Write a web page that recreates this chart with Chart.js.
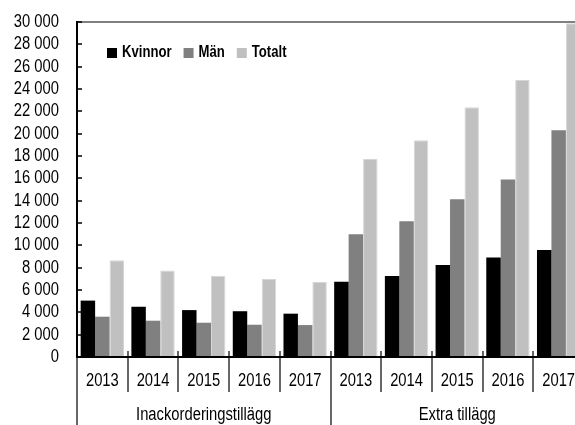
<!DOCTYPE html>
<html><head><meta charset="utf-8">
<script src="https://cdn.jsdelivr.net/npm/chart.js@4/dist/chart.umd.min.js"></script>
<style>html,body{margin:0;padding:0;overflow:hidden;background:#fff}#wrap{width:586px;height:425px;position:relative}</style>
</head><body><div id="wrap"><canvas id="c"></canvas></div>
<script>
const years = ['2013','2014','2015','2016','2017','2013','2014','2015','2016','2017'];
const groups = ['Inackorderingstillägg','Extra tillägg'];
const groupSizes = [5,5];
const kvinnor = [5050,4500,4200,4100,3880,6750,7250,8240,8900,9580];
const man = [3610,3250,3070,2890,2860,11000,12150,14120,15900,20300];
const totalt = [8660,7750,7270,6990,6740,17750,19400,22360,24800,29880];
const yTickLabels = ['0','2 000','4 000','6 000','8 000','10 000','12 000','14 000','16 000','18 000','20 000','22 000','24 000','26 000','28 000','30 000'];
const FONT = '"Liberation Sans", Arial, sans-serif';
const NARROW = 0.82;

function narrowText(ctx, text, x, y, align, font){
  ctx.save();
  ctx.font = font;
  ctx.translate(x, y);
  ctx.scale(NARROW, 1);
  ctx.textAlign = align;
  ctx.textBaseline = 'middle';
  ctx.fillStyle = '#000';
  ctx.fillText(text, 0, 0);
  ctx.restore();
}

const decor = {
  id:'decor',
  afterDraw(chart){
    const ctx = chart.ctx, x = chart.scales.x, y = chart.scales.y, a = chart.chartArea;
    const step = x.getPixelForTick(1) - x.getPixelForTick(0);
    ctx.save();
    ctx.strokeStyle = '#000';
    // y tick marks inward + labels
    ctx.lineWidth = 1.5;
    y.ticks.forEach((t,i)=>{
      const py = Math.round(y.getPixelForTick(i));
      ctx.beginPath(); ctx.moveTo(a.left, py); ctx.lineTo(a.left+5, py); ctx.stroke();
      narrowText(ctx, yTickLabels[i], a.left-18, py+0.5, 'right', '18px ' + FONT);
    });
    // category separators + year labels
    ctx.lineWidth = 1.2;
    for(let i=0;i<=years.length;i++){
      const px = Math.round(x.getPixelForTick(0) - step/2 + i*step);
      ctx.beginPath(); ctx.moveTo(px, a.bottom-6); ctx.lineTo(px, a.bottom+35); ctx.stroke();
    }
    years.forEach((lab,i)=>{
      narrowText(ctx, lab, x.getPixelForTick(i), a.bottom+24, 'center', '18px ' + FONT);
    });
    // group separators and labels
    let idx = 0;
    groups.forEach((g,gi)=>{
      const x0 = x.getPixelForTick(0) - step/2 + idx*step;
      const x1 = x0 + groupSizes[gi]*step;
      ctx.beginPath(); ctx.moveTo(Math.round(x0), a.bottom+35); ctx.lineTo(Math.round(x0), a.bottom+70); ctx.stroke();
      narrowText(ctx, g, (x0+x1)/2, a.bottom+58, 'center', '18px ' + FONT);
      idx += groupSizes[gi];
    });
    // legend
    let lx = 107; const ly = 53;
    const lfont = 'bold 16px ' + FONT;
    ctx.font = lfont;
    chart.data.datasets.forEach(ds=>{
      ctx.fillStyle = ds.backgroundColor;
      ctx.fillRect(lx, ly-5, 10, 10);
      narrowText(ctx, ds.label, lx+15, ly, 'left', lfont);
      ctx.font = lfont;
      lx += 15 + ctx.measureText(ds.label).width*NARROW + 12;
    });
    ctx.restore();
  }
};

new Chart(document.getElementById('c'), {
  type:'bar',
  data:{
    labels: years,
    datasets:[
      {label:'Kvinnor', data:kvinnor, backgroundColor:'#000000'},
      {label:'Män', data:man, backgroundColor:'#808080'},
      {label:'Totalt', data:totalt, backgroundColor:'#c0c0c0', borderColor:'#d6d6d6', borderWidth:1}
    ]
  },
  options:{
    responsive:true, maintainAspectRatio:false, animation:false,
    layout:{padding:{top:22,right:2,left:0,bottom:0}},
    datasets:{bar:{categoryPercentage:0.855, barPercentage:1}},
    plugins:{legend:{display:false}, tooltip:{enabled:false}},
    scales:{
      x:{
        afterFit(s){ s.height = 68; },
        grid:{display:false, drawTicks:false},
        border:{display:true, color:'#000', width:2},
        ticks:{display:false, autoSkip:false}
      },
      y:{
        min:0, max:30000,
        afterFit(s){ s.width = 77; },
        grid:{drawTicks:false, color:(c)=> c.tick && c.tick.value===30000 ? '#808080' : 'rgba(0,0,0,0)', lineWidth:2},
        border:{display:true, color:'#000', width:2},
        ticks:{display:false, stepSize:2000, autoSkip:false}
      }
    }
  },
  plugins:[decor]
});
</script></body></html>
